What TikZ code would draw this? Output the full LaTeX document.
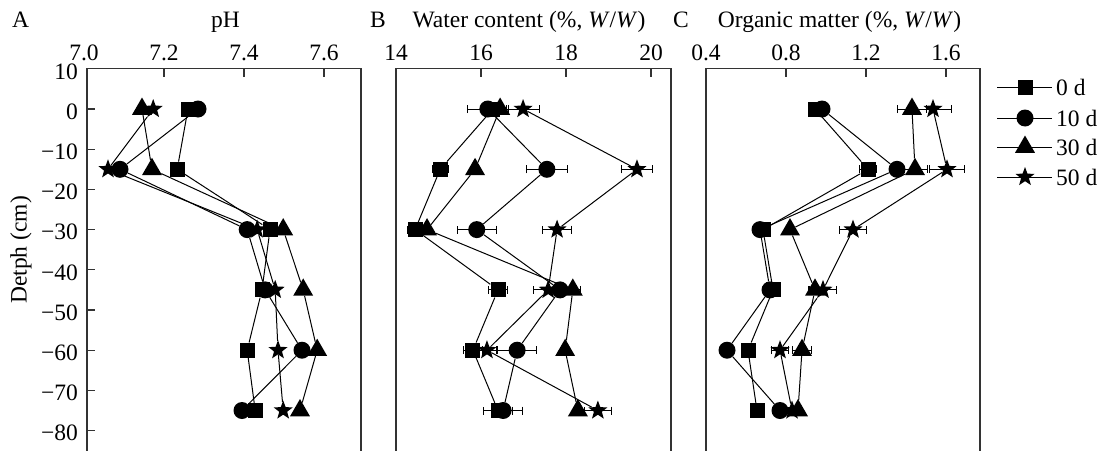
\documentclass[tikz,border=0pt]{standalone}
\usepackage{fontspec}
\setmainfont{Liberation Serif}
\usetikzlibrary{arrows.meta}
\usetikzlibrary{shapes.geometric}

% one data series: nodes at value/depth, joined in order
\newcommand{\plotseries}[3]{%
  \foreach \v/\d [count=\i] in {#3} {
    \node[#2] (#1\i) at (\v,\d) {};
    \ifnum\i>1
      \pgfmathtruncatemacro\j{\i-1}
      \draw[dline] (#1\j) -- (#1\i);
    \fi
  }%
}
\newcommand{\errbars}[1]{%
  \foreach \v/\d/\e in {#1} {\draw[ebar] ({\v-\e},\d) -- ({\v+\e},\d);}%
}

\begin{document}
\begin{tikzpicture}[x=1pt, y=-1pt,
    every node/.style={font=\fontsize{23.5}{28}\selectfont},
    panel/.style={draw=black!80, line width=1.3pt},
    dline/.style={black, line width=1pt},
    ebar/.style={black, line width=1pt, {Bar[width=8pt]}-{Bar[width=8pt]}},
    sq/.style={rectangle, fill=black, inner sep=0pt, minimum size=15pt},
    ci/.style={circle, fill=black, inner sep=0pt, minimum size=17pt},
    tri/.style={regular polygon, regular polygon sides=3, fill=black, inner sep=0pt, minimum size=23pt},
    st/.style={star, star points=5, star point ratio=2.4, fill=black, inner sep=0pt, minimum size=20pt},
    tlab/.style={anchor=base, yshift=8pt, inner sep=0pt},
    ylab/.style={anchor=east, xshift=-9pt, yshift=-2.5pt, inner sep=0pt}]
    \useasboundingbox (0,0) rectangle (1105,450);

    % titles
    \node[anchor=base] (ta) at (20.5,27) {A};
    \node[anchor=base] (tpa) at (225.5,27) {pH};
    \node[anchor=base] (tb) at (378,27) {B};
    \node[anchor=base] (tpb) at (529,27) {Water content (\%, \textit{W}/\textit{W})};
    \node[anchor=base] (tc) at (681,27) {C};
    \node[anchor=base] (tpc) at (839.5,27) {Organic matter (\%, \textit{W}/\textit{W})};
    \node[rotate=90] (ydepth) at (21,250) {Detph (cm)};

    % A: pH
    \begin{scope}[x=400pt, y=4.02pt, shift={(-2716pt,-109pt)}]
        \draw[panel] (7.0075,-85) -- (7.0075,10) -- (7.6925,10) -- (7.6925,-85);
        \foreach \t in {7.2,7.4,7.6} \draw[panel] (\t,10) -- ++(0,-8pt);
        \foreach \d in {0,-10,...,-80} \draw[panel] (7.0075,\d) -- ++(8pt,0);
        \foreach \t [count=\k] in {7.0,7.2,7.4,7.6} \node[tlab] (xa\k) at (\t,10) {\t};
        \foreach \d [count=\k] in {10,0,-10,...,-80} {
            \pgfmathtruncatemacro\a{abs(\d)}
            \node[ylab] (ya\k) at (7.0075,\d) {\ifnum\d<0 −\fi\a};
        }
        \plotseries{as}{sq}{7.26/0, 7.233/-15, 7.465/-30, 7.445/-45, 7.408/-60, 7.428/-75}
        \plotseries{ac}{ci}{7.285/0, 7.09/-15, 7.408/-30, 7.453/-45, 7.545/-60, 7.395/-75}
        \plotseries{at}{tri}{7.145/0, 7.17/-15, 7.498/-30, 7.548/-45, 7.583/-60, 7.54/-75}
        \plotseries{ar}{st}{7.173/0, 7.06/-15, 7.433/-30, 7.478/-45, 7.485/-60, 7.498/-75}
    \end{scope}

    % B: water content
    \begin{scope}[x=42.5pt, y=4.02pt, shift={(-199pt,-109pt)}]
        \draw[panel] (14,-85) -- (14,10) -- (20.47,10) -- (20.47,-85);
        \foreach \t in {16,18,20} \draw[panel] (\t,10) -- ++(0,-8pt);
        \foreach \t [count=\k] in {14,16,18,20} \node[tlab] (xb\k) at (\t,10) {\t};
        \errbars{16.16/0/0.5, 16.99/0/0.4, 15.04/-15/0.2, 17.55/-15/0.5, 19.67/-15/0.38,
            14.45/-30/0.2, 15.9/-30/0.47, 17.79/-30/0.35, 16.4/-45/0.23, 17.58/-45/0.35,
            17.86/-45/0.3, 18.16/-45/0.2, 15.81/-60/0.23, 16.14/-60/0.23, 16.85/-60/0.47,
            16.4/-75/0.35, 16.52/-75/0.47, 18.75/-75/0.33}
        \plotseries{bs}{sq}{16.28/0, 15.04/-15, 14.45/-30, 16.4/-45, 15.81/-60, 16.4/-75}
        \plotseries{bc}{ci}{16.16/0, 17.55/-15, 15.9/-30, 17.86/-45, 16.85/-60, 16.52/-75}
        \plotseries{bt}{tri}{16.45/0, 15.86/-15, 14.73/-30, 18.16/-45, 17.98/-60, 18.28/-75}
        \plotseries{br}{st}{16.99/0, 19.67/-15, 17.79/-30, 17.58/-45, 16.14/-60, 18.75/-75}
    \end{scope}

    % C: organic matter
    \begin{scope}[x=200pt, y=4.02pt, shift={(626pt,-109pt)}]
        \draw[panel] (0.4,-85) -- (0.4,10) -- (1.77,10) -- (1.77,-85);
        \foreach \t in {0.8,1.2,1.6} \draw[panel] (\t,10) -- ++(0,-8pt);
        \foreach \t [count=\k] in {0.4,0.8,1.2,1.6} \node[tlab] (xc\k) at (\t,10) {\t};
        \errbars{1.43/0/0.075, 1.535/0/0.095, 1.21/-15/0.045, 1.445/-15/0.065, 1.605/-15/0.09,
            1.135/-30/0.07, 0.945/-45/0.035, 0.985/-45/0.07, 0.77/-60/0.045, 0.88/-60/0.05}
        \plotseries{cs}{sq}{0.945/0, 1.21/-15, 0.685/-30, 0.735/-45, 0.61/-60, 0.655/-75}
        \plotseries{cc}{ci}{0.98/0, 1.355/-15, 0.67/-30, 0.72/-45, 0.505/-60, 0.77/-75}
        \plotseries{ct}{tri}{1.43/0, 1.445/-15, 0.82/-30, 0.945/-45, 0.88/-60, 0.86/-75}
        \plotseries{cr}{st}{1.535/0, 1.605/-15, 1.135/-30, 0.985/-45, 0.77/-60, 0.83/-75}
    \end{scope}

    % legend
    \coordinate (la1) at (997,87);  \coordinate (lb1) at (1052,87);
    \coordinate (la2) at (997,118); \coordinate (lb2) at (1052,118);
    \coordinate (la3) at (997,147); \coordinate (lb3) at (1052,147);
    \coordinate (la4) at (997,177); \coordinate (lb4) at (1052,177);
    \foreach \k in {1,...,4} \draw[dline] (la\k) -- (lb\k);
    \node[sq] (lm1) at (1025,87) {};
    \node[ci] (lm2) at (1025,118) {};
    \node[tri] (lm3) at (1025,147) {};
    \node[st] (lm4) at (1025,177) {};
    \node[anchor=west, inner sep=0pt] (lt1) at (1056,87) {0 d};
    \node[anchor=west, inner sep=0pt] (lt2) at (1056,118) {10 d};
    \node[anchor=west, inner sep=0pt] (lt3) at (1056,147) {30 d};
    \node[anchor=west, inner sep=0pt] (lt4) at (1056,177) {50 d};
\end{tikzpicture}
\end{document}
